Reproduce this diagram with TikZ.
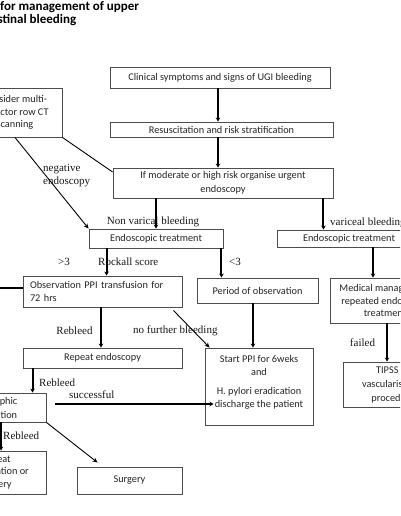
\documentclass[tikz,border=0pt]{standalone}
\usepackage{fontspec}
\setmainfont{Carlito}
\newfontfamily\tnr{Liberation Serif}
\usetikzlibrary{arrows.meta}
\begin{document}
\begin{tikzpicture}[x=1pt,y=-1pt,
 box/.style={draw=black!70, line width=0.9pt, inner sep=0pt, align=center, font=\fontsize{10.3}{12.5}\selectfont, text=black!85},
 lbl/.style={font=\tnr\fontsize{11}{13}\selectfont, inner sep=0pt, text=black!90},
 thk/.style={line width=2pt, -{Stealth[length=4pt,width=4.5pt]}},
 thkp/.style={line width=2pt},
 thn/.style={line width=0.9pt, -{Stealth[length=5pt,width=4.5pt]}},
 ttl/.style={font=\bfseries\fontsize{13}{12.8}\selectfont, inner sep=0pt, align=left},
]
\useasboundingbox (0,0) rectangle (400,516);
\clip (0,0) rectangle (400,516);
\fill[white] (0,0) rectangle (400,516);

% title
\node[ttl, anchor=north west] (title) at (-57,1.5) {Algorithm for management of upper\\gastrointestinal bleeding};

% boxes
\node[box, minimum width=220pt, minimum height=21pt] (b1) at (220,77.5) {Clinical symptoms and signs of UGI bleeding};
\node[box, minimum width=223pt, minimum height=15pt] (b2) at (221.5,129.5) {Resuscitation and risk stratification};
\node[box, minimum width=220pt, minimum height=30pt] (b3) at (223,183) {If moderate or high risk organise urgent\\[1.5pt]endoscopy};
\node[box, minimum width=94pt, minimum height=49pt] (ct) at (15,112.5) {Consider multi-\\detector row CT\\scanning};
\node[box, minimum width=134pt, minimum height=19pt] (et1) at (156,238.5) {Endoscopic treatment};
\node[box, minimum width=144pt, minimum height=17pt] (et2) at (349,238.5) {Endoscopic treatment};
\node[box, minimum width=159pt, minimum height=31pt, text width=145pt, align=left] (obs) at (102.5,291.5) {Observation PPI transfusion for\\72 hrs};
\node[box, minimum width=121pt, minimum height=25pt] (per) at (257.5,290.5) {Period of observation};
\node[box, minimum width=110pt, minimum height=45pt] (med) at (385,300.5) {Medical management\\repeated endoscopic\\treatment};
\node[box, minimum width=100pt, minimum height=45pt] (tip) at (393,384.5) {TIPSS or\\[1.5pt]vascularisation\\[1.5pt]procedure};
\node[box, minimum width=108pt, minimum height=77pt] (ppi) at (259,386.5) {Start PPI for 6weks\\and\\[7pt]H. pylori eradication\\discharge the patient\\[-2pt]\mbox{}};
\node[box, minimum width=159pt, minimum height=20pt] (rep) at (102.5,358) {Repeat endoscopy};
\node[box, minimum width=112pt, minimum height=29pt] (ang) at (-10,407.5) {Angiographic\\[1.5pt]embolization};
\node[box, minimum width=100pt, minimum height=43pt] (emb) at (-4,472.5) {Repeat\\embolization or\\surgery};
\node[box, minimum width=105pt, minimum height=27pt] (sur) at (129.5,480.5) {Surgery};

% labels
\node[lbl, anchor=west, align=left] (lneg) at (43,175.5) {negative\\endoscopy};
\node[lbl] (lnv) at (153,222) {Non varical bleeding};
\node[lbl, anchor=west] (lvar) at (330,223) {variceal bleeding};
\node[lbl] (lgt) at (64,262) {>3};
\node[lbl, anchor=west] (lrock) at (98,262) {Rockall score};
\node[lbl] (llt) at (235,262) {<3};
\node[lbl] (lreb1) at (74.5,331) {Rebleed};
\node[lbl, anchor=west] (lnf) at (133,331) {no further bleeding};
\node[lbl, anchor=west] (lreb2) at (39,383) {Rebleed};
\node[lbl, anchor=west] (lsuc) at (69,395) {successful};
\node[lbl, anchor=west] (lreb3) at (3,436) {Rebleed};
\node[lbl] (lfail) at (362.5,343) {failed};

% connectors
\coordinate (lft) at (-5,288);
\draw[thk] ([xshift=-2pt]b1.south) -- ([xshift=-2pt]b1.south |- b2.north);
\draw[thk] ([xshift=-3.5pt]b2.south) -- ([xshift=-3.5pt]b2.south |- b3.north);
\draw[thk] (et1.north |- b3.south) -- (et1.north);
\draw[thk] ([xshift=-10pt]b3.south east) -- ([xshift=-10pt]b3.south east |- et2.north);
\draw[thk] ([xshift=24pt]et2.south) -- ([xshift=24pt]et2.south |- med.north);
\draw[thk] ([xshift=2pt]med.south) -- ([xshift=2pt]med.south |- tip.north);
\draw[line width=0.9pt] (ct.south east) -- ([yshift=11pt]b3.west);
\draw[thn] (ct.south) -- (et1.north west);
\draw[thk] ([xshift=18pt]et1.south west) -- ([xshift=18pt]et1.south west |- obs.north);
\draw[thk] ([xshift=-2pt]et1.south east) -- ([xshift=-2pt]et1.south east |- per.north);
\draw[thkp] (lft) -- (lft -| obs.west);
\draw[thk] ([xshift=-4.5pt]per.south) -- ([xshift=-4.5pt]per.south |- ppi.north);
\draw[thn] ([xshift=-9pt,yshift=-3pt]obs.south east) -- ([xshift=5pt]ppi.north west);
\draw[thk] ([xshift=-1.5pt]obs.south) -- ([xshift=-1.5pt]obs.south |- rep.north);
\draw[thk] ([xshift=10pt]rep.south west) -- ([xshift=10pt]rep.south west |- ang.north);
\draw[thk] ([xshift=9pt,yshift=3.5pt]ang.east) -- ([xshift=9pt,yshift=3.5pt]ang.east -| ppi.west);
\draw[thk] ([xshift=11pt]ang.south) -- ([xshift=11pt]ang.south |- emb.north);
\draw[thn] (ang.south east) -- ([xshift=21pt,yshift=4pt]sur.north west);
\end{tikzpicture}
\end{document}
